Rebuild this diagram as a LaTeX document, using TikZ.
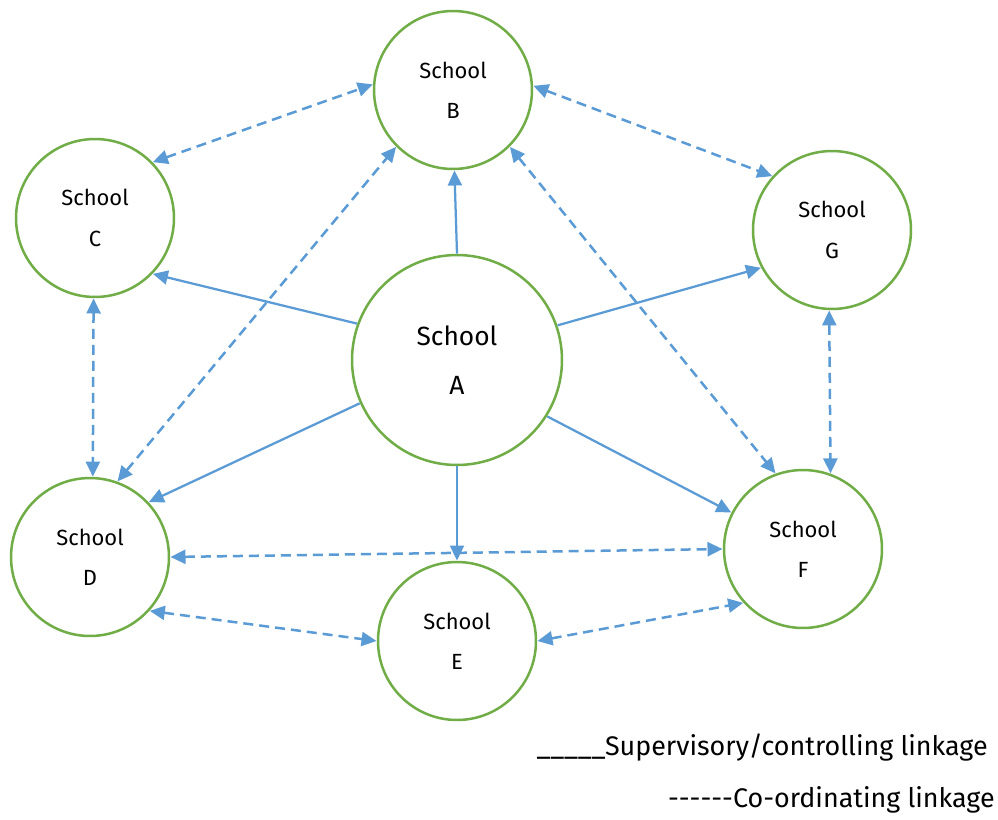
\documentclass[tikz,border=0pt]{standalone}
\usepackage{fontspec}
\setmainfont{Fira Sans}
\usetikzlibrary{arrows.meta}
\definecolor{ringgreen}{RGB}{112,173,71}
\definecolor{linkblue}{RGB}{91,155,213}
\tikzset{
  school/.style={circle, draw=ringgreen, line width=0.05cm, fill=white, inner sep=0pt, outer sep=0.03cm,
    minimum size=3.16cm, align=center, font=\fontsize{12.5}{23}\selectfont},
  bigschool/.style={school, minimum size=4.2cm, font=\fontsize{15}{28}\selectfont},
  ctrl/.style={draw=linkblue, line width=0.045cm, -{Triangle[length=0.3cm,width=0.28cm]}},
  coord/.style={draw=linkblue, line width=0.05cm, dash pattern=on 0.2cm off 0.12cm,
    {Triangle[length=0.3cm,width=0.28cm]}-{Triangle[length=0.3cm,width=0.28cm]}},
  legend/.style={anchor=base east, inner sep=0pt, font=\fontsize{15.3}{18}\selectfont}
}
\begin{document}
\begin{tikzpicture}[x=0.02cm, y=-0.02cm]
\useasboundingbox[fill=white] (0,0) rectangle (998,819);
\node[bigschool] (A) at (457,360) {School\\A};
\node[school] (B) at (453,90) {School\\B};
\node[school] (C) at (95,218) {School\\C};
\node[school] (G) at (832,230) {School\\G};
\node[school] (D) at (90,557) {School\\D};
\node[school] (F) at (803,549) {School\\F};
\node[school] (E) at (457,641) {School\\E};
% supervisory / controlling
\draw[ctrl] (A.90) -- (B.-89);
\draw[ctrl] (A.160) -- (C.-44);
\draw[ctrl] (A.19) -- (G.-152);
\draw[ctrl] (A.204) -- (D.43);
\draw[ctrl] (A.-90) -- (E.90);
\draw[ctrl] (A.-32) -- (F.153);
% co-ordinating
\draw[coord] (C.44) -- (B.176);
\draw[coord] (B.3) -- (G.138);
\draw[coord] (C.-91) -- (D.88);
\draw[coord] (G.-92) -- (F.70);
\draw[coord] (D.70) -- (B.-135);
\draw[coord] (B.-45) -- (F.110);
\draw[coord] (D.0) -- (F.180);
\draw[coord] (D.-42) -- (E.180);
\draw[coord] (E.0) -- (F.222);
% legend
\node[legend] (L1) at (988,755) {\_\_\_\_\_Supervisory/controlling linkage};
\node[legend] (L2) at (995,807) {-{}-{}-{}-{}-{}-Co-ordinating linkage};
\end{tikzpicture}
\end{document}
